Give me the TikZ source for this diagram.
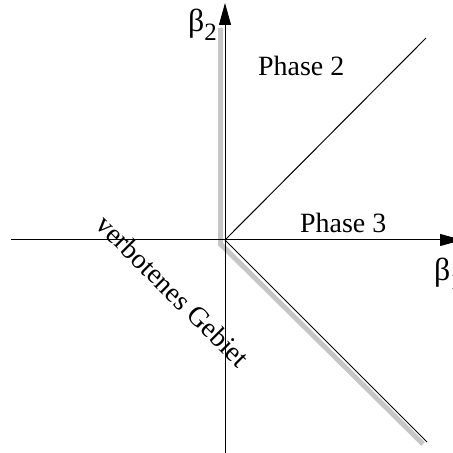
\documentclass[tikz,border=0pt]{standalone}
\usepackage{fontspec}
\setmainfont{Liberation Serif}
\usetikzlibrary{arrows.meta}
\newcommand{\sbeta}[1]{{\fontsize{32}{34}\selectfont β}\raisebox{-9bp}{\fontsize{25}{25}\selectfont #1}}
\tikzset{
  axisln/.style  = {-{Triangle[length=22bp,width=12bp]}, line width=1bp},
  phaseln/.style = {line width=1bp},
  bndln/.style   = {gray!45, line width=5bp, line join=miter},
  lbl/.style     = {font=\fontsize{28}{34}\selectfont, inner sep=0pt}
}

\begin{document}
\begin{tikzpicture}[x=1bp,y=1bp]
  \useasboundingbox (-225,-213) rectangle (228,240);
  \coordinate (O) at (0,0);
  % Rand des verbotenen Gebiets
  \coordinate (G1) at (-4.5,212);
  \coordinate (G2) at (-4.5,-4);
  \coordinate (G3) at (198,-204);
  \draw[bndln] (G1) -- (G2) -- (G3);
  % Achsen
  \coordinate (xl) at (-214,0);
  \coordinate (xr) at (237,0);
  \coordinate (yb) at (0,-213);
  \coordinate (yt) at (0,237);
  \draw[axisln] (xl) -- (xr);
  \draw[axisln] (yb) -- (yt);
  % Phasengrenzen
  \coordinate (P23) at (201,202);
  \coordinate (PV) at (202,-202);
  \draw[phaseln] (O) -- (P23);
  \draw[phaseln] (O) -- (PV);
  % Beschriftung
  \node[lbl,anchor=base west] (b2) at (-37,208) {\sbeta{2}};
  \node[lbl,anchor=base west] (b1) at (209,-41) {\sbeta{1}};
  \node[lbl,anchor=base west] (ph2) at (33,164) {Phase 2};
  \node[lbl,anchor=base west] (ph3) at (75,7) {Phase 3};
  \node[lbl,rotate=-45] (vg) at (-52,-51) {verbotenes Gebiet};
\end{tikzpicture}
\end{document}
